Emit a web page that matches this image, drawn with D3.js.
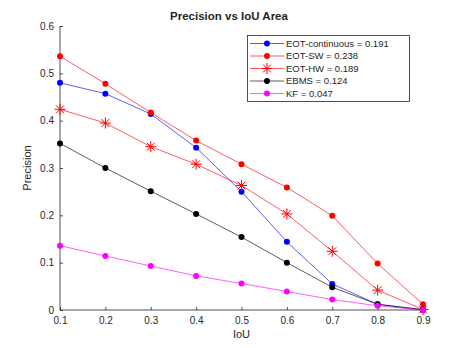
<!DOCTYPE html>
<html>
<head>
<meta charset="utf-8">
<script src="https://cdn.jsdelivr.net/npm/d3@7"></script>
<style>
  body { margin: 0; background: #fff; }
  text { font-family: "Liberation Sans", Arial, sans-serif; fill: #262626; }
</style>
</head>
<body>
<div class="canvas"></div>
<script>
// data
const iou = [0.1, 0.2, 0.3, 0.4, 0.5, 0.6, 0.7, 0.8, 0.9];
const eotContinuous = [0.480, 0.457, 0.414, 0.343, 0.250, 0.144, 0.055, 0.012, 0.000];
const eotSW = [0.536, 0.478, 0.417, 0.358, 0.308, 0.259, 0.199, 0.098, 0.012];
const eotHW = [0.424, 0.395, 0.345, 0.308, 0.263, 0.203, 0.124, 0.042, 0.001];
const ebms = [0.352, 0.300, 0.251, 0.203, 0.154, 0.100, 0.048, 0.012, 0.001];
const kf = [0.136, 0.114, 0.093, 0.072, 0.056, 0.039, 0.022, 0.009, 0.000];
const seriesNames = ['EOT-continuous = 0.191', 'EOT-SW = 0.238', 'EOT-HW = 0.189', 'EBMS = 0.124', 'KF = 0.047'];
const xTicks = [0.1, 0.2, 0.3, 0.4, 0.5, 0.6, 0.7, 0.8, 0.9];
const yTicks = [0, 0.1, 0.2, 0.3, 0.4, 0.5, 0.6];

const W = 463, H = 348;
const plot = { left: 60, right: 423, top: 26, bottom: 310 };

const series = [
  { name: seriesNames[0], values: eotContinuous, colour: '#0000ff', marker: 'dot' },
  { name: seriesNames[1], values: eotSW, colour: '#ff0000', marker: 'dot' },
  { name: seriesNames[2], values: eotHW, colour: '#ff0000', marker: 'star' },
  { name: seriesNames[3], values: ebms, colour: '#000000', marker: 'dot' },
  { name: seriesNames[4], values: kf, colour: '#ff00ff', marker: 'dot' }
];

const svg = d3.select('.canvas')
  .append('svg')
  .attr('width', W)
  .attr('height', H);

const x = d3.scaleLinear().domain([0.1, 0.9]).range([plot.left, plot.right]);
const y = d3.scaleLinear().domain([0, 0.6]).range([plot.bottom, plot.top]);

// axes, ticks point inward like matlab
const xAxis = svg.append('g')
  .attr('transform', `translate(0,${plot.bottom})`)
  .call(d3.axisBottom(x).tickValues(xTicks).tickSize(-3).tickPadding(7).tickFormat(d3.format('.1f')));
const yAxis = svg.append('g')
  .attr('transform', `translate(${plot.left},0)`)
  .call(d3.axisLeft(y).tickValues(yTicks).tickSize(-3).tickPadding(6).tickFormat(d => d === 0 ? '0' : d3.format('.1f')(d)));

[xAxis, yAxis].forEach(a => {
  a.select('.domain').attr('stroke', '#262626').attr('stroke-width', 0.8);
  a.selectAll('.tick line').attr('stroke', '#262626').attr('stroke-width', 0.8);
  a.selectAll('.tick text').attr('font-size', 10).attr('fill', '#262626')
    .attr('font-family', '"Liberation Sans", Arial, sans-serif');
});
// the domain path has end caps; draw plain lines instead
xAxis.select('.domain').attr('d', `M${plot.left},0H${plot.right}`);
yAxis.select('.domain').attr('d', `M0,${plot.bottom}V${plot.top}`);

// star marker (asterisk with 8 arms)
const starPath = (r) => {
  let p = '';
  for (let k = 0; k < 4; k++) {
    const a = k * Math.PI / 4;
    const dx = r * Math.cos(a), dy = r * Math.sin(a);
    p += `M${-dx},${-dy}L${dx},${dy}`;
  }
  return p;
};

const line = d3.line()
  .x((d, i) => x(iou[i]))
  .y(d => y(d));

const graph = svg.append('g');

series.forEach(s => {
  const g = graph.append('g');
  g.append('path')
    .attr('d', line(s.values))
    .attr('fill', 'none')
    .attr('stroke', s.colour)
    .attr('stroke-opacity', 0.8)
    .attr('stroke-width', 0.8);
  if (s.marker === 'dot') {
    g.selectAll('circle')
      .data(s.values)
      .enter()
      .append('circle')
        .attr('cx', (d, i) => x(iou[i]))
        .attr('cy', d => y(d))
        .attr('r', 3)
        .attr('fill', s.colour);
  } else {
    g.selectAll('path.star')
      .data(s.values)
      .enter()
      .append('path')
        .attr('class', 'star')
        .attr('transform', (d, i) => `translate(${x(iou[i])},${y(d)})`)
        .attr('d', starPath(5.5))
        .attr('stroke', s.colour)
        .attr('stroke-width', 1);
  }
});

// title and labels
svg.append('text')
  .attr('x', 229).attr('y', 20)
  .attr('text-anchor', 'middle')
  .attr('font-size', 11.5).attr('font-weight', 'bold')
  .attr('fill', '#000')
  .text('Precision vs IoU Area');

svg.append('text')
  .attr('x', (plot.left + plot.right) / 2).attr('y', 338)
  .attr('text-anchor', 'middle')
  .attr('font-size', 11)
  .text('IoU');

svg.append('text')
  .attr('transform', `translate(31,${(plot.top + plot.bottom) / 2}) rotate(-90)`)
  .attr('text-anchor', 'middle')
  .attr('font-size', 11)
  .text('Precision');

// legend
const legend = svg.append('g').attr('transform', 'translate(247,35)');
legend.append('rect')
  .attr('x', 0.5).attr('y', 0.5)
  .attr('width', 162).attr('height', 66)
  .attr('fill', '#fff')
  .attr('stroke', '#262626')
  .attr('stroke-width', 0.8);

series.forEach((s, i) => {
  const row = legend.append('g').attr('transform', `translate(0,${8.5 + i * 12.5})`);
  row.append('line')
    .attr('x1', 3).attr('x2', 37)
    .attr('stroke', s.colour).attr('stroke-opacity', 0.8).attr('stroke-width', 0.8);
  if (s.marker === 'dot') {
    row.append('circle').attr('cx', 20).attr('r', 3).attr('fill', s.colour);
  } else {
    row.append('path').attr('transform', 'translate(20,0)')
      .attr('d', starPath(5.5)).attr('stroke', s.colour).attr('stroke-width', 1);
  }
  row.append('text')
    .attr('x', 39).attr('y', 3.3)
    .attr('font-size', 9.5)
    .attr('fill', '#000')
    .text(s.name);
});
</script>
</body>
</html>
